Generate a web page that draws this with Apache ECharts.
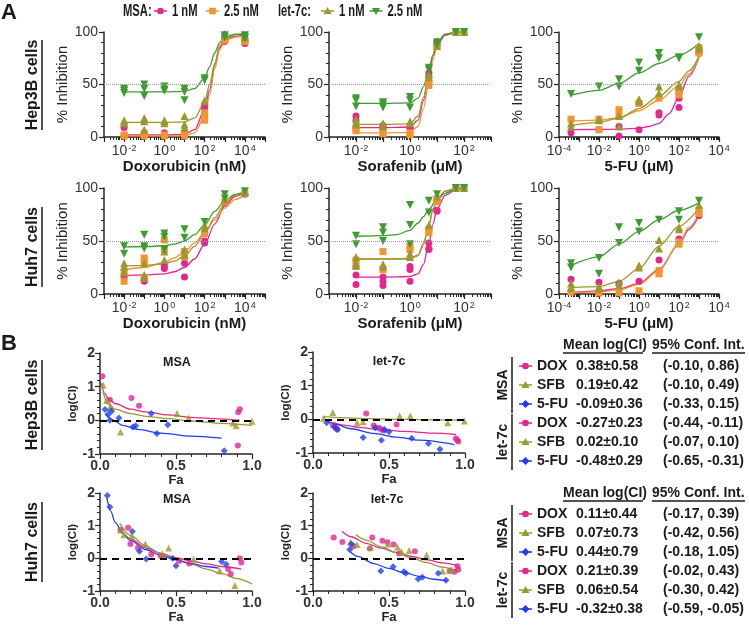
<!DOCTYPE html>
<html><head><meta charset="utf-8">
<script src="https://cdn.jsdelivr.net/npm/echarts@6/dist/echarts.min.js"></script>
<style>html,body{margin:0;padding:0;background:#fff}#c{width:749px;height:626px}</style>
</head><body><div id="c"></div><script>
// ---------- DATA ----------
// log10 concentrations
const doxLogConc = [-2,-1,0,1,2,3,4];
const sorLogConc = [-2,-1,0,0.7,1,1.7,2];
const fuLogConc  = [-3.4,-2,-1,0,1,2,3];
const doxMajor = [-3,-2,-1,0,1,2,3,4,5], doxLabels = [-2,0,2,4];
const sorMajor = [-3,-2,-1,0,1,2,3],     sorLabels = [-2,0,2];
const fuMajor  = [-4,-3,-2,-1,0,1,2,3,4], fuLabels = [-4,-2,0,2,4];
const minorMult = [2,3,4,5,6,7,8,9];
const yInhTicks = [0,50,100];
const legendGroups = ['MSA:','let-7c:'];
const legendItems = ['1 nM','2.5 nM','1 nM','2.5 nM'];

// Replicate % inhibition per concentration
const hep3bDoxMsa1 = [[9,1],[4,1],[4,2],[4,1],[30,27],[92,91],[91,89]];
const hep3bDoxMsa25 = [[2,1],[2,1],[2,1],[2,1],[23,20,16],[94,92],[93,91]];
const hep3bDoxLet1 = [[16,15,13],[18,15,7],[16,15,13],[20,12,9],[35,34],[98,97],[97,95]];
const hep3bDoxLet25 = [[46,44,42],[50,46,39],[48,45,44],[46,43,35],[56,54],[97,95],[97,95,94]];
const hep3bDoxMsa1Fit = [[-2,2],[0,2],[1,2.5],[1.5,7],[2,26],[2.25,45],[2.5,68],[2.75,85],[3,93],[3.5,96],[4,97]];
const hep3bDoxMsa25Fit = [[-2,1],[0,1],[1,1],[1.5,4],[2,20],[2.25,40],[2.5,65],[2.75,83],[3,92],[3.5,95],[4,96]];
const hep3bDoxLet1Fit = [[-2,14],[0,14],[1,14.5],[1.5,18],[2,33],[2.25,50],[2.5,70],[2.75,87],[3,94],[3.5,97.5],[4,98]];
const hep3bDoxLet25Fit = [[-2,43],[0,43],[1,43.5],[1.5,46],[2,56],[2.25,67],[2.5,80],[2.75,90],[3,95],[3.5,98],[4,98.5]];

const hep3bSorMsa1 = [[20,16],[11,9],[9,8],[61,58],[91,89],[100],[100]];
const hep3bSorMsa25 = [[8,6],[5,3],[4,2],[52,49],[88,86],[100],[100]];
const hep3bSorLet1 = [[17,14,12],[13,10],[15,13],[60,57],[91,87],[100],[100]];
const hep3bSorLet25 = [[37,35,29],[33,31,28],[38,35,28],[66,64],[90,88],[100],[100]];
const hep3bSorMsa1Fit = [[-2,9],[-1,9],[0,9.5],[0.3,16],[0.5,35],[0.7,59],[0.85,78],[1,90],[1.3,98],[1.7,99.8],[2,100]];
const hep3bSorMsa25Fit = [[-2,4],[-1,4],[0,4.5],[0.3,10],[0.5,27],[0.7,52],[0.85,73],[1,87],[1.3,97],[1.7,99.7],[2,100]];
const hep3bSorLet1Fit = [[-2,12],[-1,12],[0,12.5],[0.3,20],[0.5,38],[0.7,60],[0.85,78],[1,89],[1.3,97],[1.7,99.7],[2,100]];
const hep3bSorLet25Fit = [[-2,32],[-1,32],[0,32.5],[0.3,37],[0.5,48],[0.7,64],[0.85,78],[1,88],[1.3,97],[1.7,99.5],[2,100]];

const hep3bFuMsa1 = [[4],[7],[10,1],[7],[23,21],[37,28],[80]];
const hep3bFuMsa25 = [[17],[17,7],[26,20],[32],[37],[45,43,40],[85,82,80]];
const hep3bFuLet1 = [[13,10],[17,16],[20,10],[36,34],[48,42],[50,48],[87,84]];
const hep3bFuLet25 = [[41],[48],[55,48],[71,63],[80,75],[76,75],[95]];
const hep3bFuMsa1Fit = [[-3.4,7],[-2,7.2],[-1,7.5],[0,8.5],[0.5,10],[1,13],[1.5,22],[2,38],[2.5,58],[3,76]];
const hep3bFuMsa25Fit = [[-3.4,15],[-2,16],[-1,18.5],[0,25],[1,35],[2,49],[2.5,60],[3,76]];
const hep3bFuLet1Fit = [[-3.4,11],[-2,14],[-1,18],[0,27],[1,39],[2,53],[2.5,63],[3,77]];
const hep3bFuLet25Fit = [[-3.4,40],[-2,44.5],[-1,51],[0,61],[1,70],[2,78],[3,89]];

const huh7DoxMsa1 = [[16],[13,12],[27,24],[29,16],[50,48],[86],[94]];
const huh7DoxMsa25 = [[20,12],[34,31,15],[51,42],[40,35],[57],[87],[95]];
const huh7DoxLet1 = [[29,26,21],[29,18,16],[40,32],[42,37],[65,62],[89],[96]];
const huh7DoxLet25 = [[45,38],[56,45,43],[57,54,42],[61,53],[68],[94,90],[97]];
const huh7DoxMsa1Fit = [[-2,17.5],[-1,18],[0,19],[0.5,21],[1,25],[1.5,33],[2,47],[2.5,66],[3,83],[3.5,92],[4,95.5]];
const huh7DoxMsa25Fit = [[-2,23],[-1,25],[0,30],[0.5,34],[1,40],[1.5,48],[2,58],[2.5,70],[3,81],[3.5,89],[4,93.5]];
const huh7DoxLet1Fit = [[-2,26.5],[-1,27],[0,28.5],[0.5,31],[1,36],[1.5,45],[2,57],[2.5,72],[3,85],[3.5,93],[4,96]];
const huh7DoxLet25Fit = [[-2,44.5],[-1,44.6],[0,45.5],[0.5,47],[1,50],[1.5,56],[2,65],[2.5,78],[3,88],[3.5,94],[4,96.5]];

const huh7SorMsa1 = [[18,9],[16,12,8],[26,23,12],[48,43,42],[79,78],[100],[100]];
const huh7SorMsa25 = [[32,26],[40,23],[45,42],[61,58],[90,87],[100],[100]];
const huh7SorLet1 = [[35,29,27],[28,26],[38,35],[65],[92],[100],[100]];
const huh7SorLet25 = [[55,47],[63,58,50],[84,65,47],[88,77],[94],[100],[100]];
const huh7SorMsa1Fit = [[-2,16],[-1,16],[0,16.5],[0.3,19],[0.5,28],[0.7,48],[0.85,66],[1,80],[1.3,93],[1.7,98.5],[2,99.5]];
const huh7SorMsa25Fit = [[-2,33],[-1,33],[0,33],[0.3,36],[0.5,46],[0.7,64],[0.85,79],[1,89],[1.3,97],[1.7,99.5],[2,100]];
const huh7SorLet1Fit = [[-2,33],[-1,33],[0,33.5],[0.3,37],[0.5,48],[0.7,66],[0.85,80],[1,89],[1.3,97],[1.7,99.5],[2,100]];
const huh7SorLet25Fit = [[-2,54.5],[-1,55],[-0.5,56],[0,60],[0.3,67],[0.5,73],[0.7,80],[1,89],[1.3,95],[1.7,99],[2,100]];

const huh7FuMsa1 = [[14],[11],[10],[12],[32,22],[52],[74]];
const huh7FuMsa25 = [[2],[1],[1],[3],[22,19],[49,47],[79,76]];
const huh7FuLet1 = [[10,6],[7,5],[11,8],[27,25],[51,43],[63,61],[84]];
const huh7FuLet25 = [[29,25],[34,19],[63,48],[67,59],[70],[78,70],[88]];
const huh7FuMsa1Fit = [[-3.4,1.5],[-2,3],[-1,5],[0,10],[1,23],[2,47],[2.5,61],[3,74]];
const huh7FuMsa25Fit = [[-3.4,1],[-2,2],[-1,4],[0,9],[1,22],[2,48],[2.5,63],[3,76]];
const huh7FuLet1Fit = [[-3.4,6],[-2,7],[-1,12],[0,24],[1,45],[2,64],[3,81]];
const huh7FuLet25Fit = [[-3.4,27],[-2,35],[-1,47],[0,59],[1,70],[2,79],[3,86]];

// Panel B: [Fa, log(CI)]
const hep3bMsaDox = [[0.015,1.31],[0.065,0.61],[0.207,0.66],[0.257,0.43],[0.909,0.24],[0.92,0.33],[0.907,-0.75]];
const hep3bMsaSfb = [[0.02,1.05],[0.043,0.59],[0.07,0.41],[0.065,0.36],[0.135,-0.35],[0.507,0.2],[0.583,0.07],[0.874,-0.08],[0.896,-0.16],[1.0,-0.03]];
const hep3bMsaFu = [[0.033,0.32],[0.054,0.17],[0.065,0.0],[0.076,0.27],[0.124,0.07],[0.217,-0.2],[0.235,-0.16],[0.337,0.2],[0.374,-0.39],[0.446,-0.13],[0.817,-0.9]];
const hep3bMsaDoxFit = [[0.01,1.1],[0.03,0.8],[0.06,0.62],[0.1,0.5],[0.2,0.33],[0.3,0.25],[0.45,0.16],[0.6,0.09],[0.75,0.05],[0.92,0.0]];
const hep3bMsaSfbFit = [[0.02,0.85],[0.05,0.5],[0.1,0.33],[0.2,0.2],[0.3,0.12],[0.45,0.05],[0.6,-0.02],[0.8,-0.09],[1.0,-0.15]];
const hep3bMsaFuFit = [[0.035,0.2],[0.08,0.02],[0.15,-0.15],[0.25,-0.27],[0.4,-0.38],[0.6,-0.47],[0.8,-0.53]];

const hep3bLetDox = [[0.13,-0.17],[0.15,-0.25],[0.16,-0.3],[0.35,0.17],[0.4,-0.18],[0.435,-0.25],[0.45,-0.3],[0.466,-0.33],[0.55,-0.15],[0.94,-0.57],[0.95,-0.62],[0.956,-0.66]];
const hep3bLetSfb = [[0.07,0.03],[0.13,0.2],[0.29,-0.1],[0.33,-0.07],[0.57,0.1],[0.64,0.1],[0.886,-0.1],[0.996,-0.05]];
const hep3bLetFu = [[0.09,-0.1],[0.14,-0.23],[0.16,-0.3],[0.33,-0.54],[0.41,-0.25],[0.45,-0.62],[0.47,-0.3],[0.5,-0.37],[0.65,-0.56],[0.76,-0.72],[0.835,-0.89]];
const hep3bLetDoxFit = [[0.13,-0.1],[0.2,-0.17],[0.3,-0.24],[0.45,-0.31],[0.6,-0.36],[0.8,-0.41],[0.94,-0.45]];
const hep3bLetSfbFit = [[0.07,0.08],[0.3,0.03],[0.6,0.0],[1.0,-0.03]];
const hep3bLetFuFit = [[0.09,-0.03],[0.15,-0.15],[0.25,-0.28],[0.4,-0.42],[0.55,-0.53],[0.7,-0.62],[0.93,-0.75]];

const huh7MsaDox = [[0.135,0.87],[0.185,0.94],[0.2,0.44],[0.25,0.32],[0.337,0.12],[0.4,0.07],[0.413,0.04],[0.52,-0.08],[0.587,-0.16],[0.843,-0.33],[0.86,-0.48],[0.92,0.0],[0.93,-0.13]];
const huh7MsaSfb = [[0.135,0.87],[0.157,0.72],[0.207,0.67],[0.298,0.44],[0.41,0.14],[0.452,0.32],[0.615,-0.03],[0.787,-0.38],[0.887,-0.83]];
const huh7MsaFu = [[0.048,1.92],[0.065,1.57],[0.213,0.82],[0.26,0.22],[0.304,-0.02],[0.478,0.0],[0.5,-0.23],[0.8,-0.1],[0.83,-0.18]];
const huh7MsaDoxFit = [[0.14,0.85],[0.2,0.6],[0.3,0.32],[0.4,0.15],[0.5,0.02],[0.6,-0.08],[0.7,-0.17],[0.8,-0.25],[0.93,-0.33]];
const huh7MsaSfbFit = [[0.13,1.07],[0.2,0.7],[0.3,0.38],[0.4,0.15],[0.5,-0.03],[0.6,-0.18],[0.7,-0.33],[0.8,-0.47],[0.9,-0.62],[1.0,-0.78]];
const huh7MsaFuFit = [[0.045,1.85],[0.07,1.45],[0.1,1.1],[0.15,0.77],[0.2,0.55],[0.3,0.27],[0.4,0.09],[0.5,-0.05],[0.6,-0.16],[0.7,-0.25],[0.78,-0.3]];

const huh7LetDox = [[0.136,0.64],[0.193,0.5],[0.268,0.37],[0.374,0.3],[0.39,0.64],[0.457,0.54],[0.49,0.49],[0.53,0.42],[0.567,0.15],[0.67,0.22],[0.9,-0.39],[0.93,-0.41],[0.95,-0.24],[0.956,-0.34]];
const huh7LetSfb = [[0.246,0.49],[0.29,0.42],[0.378,0.34],[0.495,0.44],[0.556,0.35],[0.582,0.2],[0.633,0.24],[0.747,0.1],[0.853,-0.39],[0.897,-0.36],[0.912,-0.34]];
const huh7LetFu = [[0.242,0.27],[0.253,0.44],[0.446,-0.39],[0.527,-0.26],[0.598,-0.41],[0.611,-0.46],[0.692,-0.63],[0.719,-0.58],[0.824,-0.46],[0.875,-0.67]];
const huh7LetDoxFit = [[0.19,0.83],[0.25,0.66],[0.35,0.46],[0.45,0.31],[0.55,0.18],[0.65,0.06],[0.75,-0.05],[0.85,-0.14],[0.95,-0.22]];
const huh7LetSfbFit = [[0.28,0.73],[0.35,0.56],[0.45,0.35],[0.55,0.17],[0.65,0.01],[0.75,-0.13],[0.85,-0.27],[0.96,-0.42]];
const huh7LetFuFit = [[0.24,0.22],[0.3,0.05],[0.4,-0.16],[0.5,-0.31],[0.6,-0.44],[0.7,-0.55],[0.8,-0.64],[0.88,-0.7]];

// Tables
const tableDrugs = ['DOX','SFB','5-FU'];
const tableHeader = ['Mean log(CI)','95% Conf. Int.'];
const hep3bMsaMean = ['0.38±0.58','0.19±0.42','-0.09±0.36'];
const hep3bMsaCI = ['(-0.10, 0.86)','(-0.10, 0.49)','(-0.33, 0.15)'];
const hep3bLetMean = ['-0.27±0.23','0.02±0.10','-0.48±0.29'];
const hep3bLetCI = ['(-0.44, -0.11)','(-0.07, 0.10)','(-0.65, -0.31)'];
const huh7MsaMean = ['0.11±0.44','0.07±0.73','0.44±0.79'];
const huh7MsaCI = ['(-0.17, 0.39)','(-0.42, 0.56)','(-0.18, 1.05)'];
const huh7LetMean = ['0.21±0.39','0.06±0.54','-0.32±0.38'];
const huh7LetCI = ['(-0.02, 0.43)','(-0.30, 0.42)','(-0.59, -0.05)'];

// ---------- STYLE / BUILD ----------
const FONT = "'Liberation Sans', Arial, sans-serif";
const AX = '#262626';
const COL = {msa1:'#E4278D', msa25:'#F2952F', let1:'#9A982E', let25:'#3E9B32', dox:'#E4278D', sfb:'#9A982E', fu:'#1E3EF2'};
const aGroups = [
  {name:'MSA 1 nM', color:COL.msa1, symbol:'circle', size:7, rot:0},
  {name:'MSA 2.5 nM', color:COL.msa25, symbol:'rect', size:7, rot:0},
  {name:'let-7c 1 nM', color:COL.let1, symbol:'triangle', size:8, rot:0},
  {name:'let-7c 2.5 nM', color:COL.let25, symbol:'triangle', size:8, rot:180}
];
const bGroups = [
  {name:'DOX', color:COL.dox, symbol:'circle', size:6},
  {name:'SFB', color:COL.sfb, symbol:'triangle', size:7},
  {name:'5-FU', color:COL.fu, symbol:'diamond', size:7}
];
const expand = (conc, reps) => conc.flatMap((c,i) => reps[i].map(v => [c, v]));
const minorsFor = (lo, hi) => { const out=[]; for (let d=Math.floor(lo); d<hi; d++) minorMult.forEach(m => { const v=d+Math.log10(m); if (v>lo && v<hi) out.push(v); }); return out; };

const aPlots = [
  {left:104, top:32, width:161, height:105, xmin:-3, xmax:5, majors:doxMajor, labels:doxLabels, title:'Doxorubicin (nM)', conc:doxLogConc,
   sets:[hep3bDoxMsa1,hep3bDoxMsa25,hep3bDoxLet1,hep3bDoxLet25], fits:[hep3bDoxMsa1Fit,hep3bDoxMsa25Fit,hep3bDoxLet1Fit,hep3bDoxLet25Fit]},
  {left:329, top:32, width:162, height:105, xmin:-3, xmax:3, majors:sorMajor, labels:sorLabels, title:'Sorafenib (\u03bcM)', conc:sorLogConc,
   sets:[hep3bSorMsa1,hep3bSorMsa25,hep3bSorLet1,hep3bSorLet25], fits:[hep3bSorMsa1Fit,hep3bSorMsa25Fit,hep3bSorLet1Fit,hep3bSorLet25Fit]},
  {left:559, top:32, width:160, height:105, xmin:-4, xmax:4, majors:fuMajor, labels:fuLabels, title:'5-FU (\u03bcM)', conc:fuLogConc,
   sets:[hep3bFuMsa1,hep3bFuMsa25,hep3bFuLet1,hep3bFuLet25], fits:[hep3bFuMsa1Fit,hep3bFuMsa25Fit,hep3bFuLet1Fit,hep3bFuLet25Fit]},
  {left:104, top:188, width:161, height:106, xmin:-3, xmax:5, majors:doxMajor, labels:doxLabels, title:'Doxorubicin (nM)', conc:doxLogConc,
   sets:[huh7DoxMsa1,huh7DoxMsa25,huh7DoxLet1,huh7DoxLet25], fits:[huh7DoxMsa1Fit,huh7DoxMsa25Fit,huh7DoxLet1Fit,huh7DoxLet25Fit]},
  {left:329, top:188, width:162, height:106, xmin:-3, xmax:3, majors:sorMajor, labels:sorLabels, title:'Sorafenib (\u03bcM)', conc:sorLogConc,
   sets:[huh7SorMsa1,huh7SorMsa25,huh7SorLet1,huh7SorLet25], fits:[huh7SorMsa1Fit,huh7SorMsa25Fit,huh7SorLet1Fit,huh7SorLet25Fit]},
  {left:559, top:188, width:160, height:106, xmin:-4, xmax:4, majors:fuMajor, labels:fuLabels, title:'5-FU (\u03bcM)', conc:fuLogConc,
   sets:[huh7FuMsa1,huh7FuMsa25,huh7FuLet1,huh7FuLet25], fits:[huh7FuMsa1Fit,huh7FuMsa25Fit,huh7FuLet1Fit,huh7FuLet25Fit]}
];
const bPlots = [
  {left:100, top:353, width:152, height:101, sets:[hep3bMsaDox,hep3bMsaSfb,hep3bMsaFu], fits:[hep3bMsaDoxFit,hep3bMsaSfbFit,hep3bMsaFuFit]},
  {left:313, top:352, width:152, height:101, sets:[hep3bLetDox,hep3bLetSfb,hep3bLetFu], fits:[hep3bLetDoxFit,hep3bLetSfbFit,hep3bLetFuFit]},
  {left:100, top:493, width:152, height:98, sets:[huh7MsaDox,huh7MsaSfb,huh7MsaFu], fits:[huh7MsaDoxFit,huh7MsaSfbFit,huh7MsaFuFit]},
  {left:313, top:493, width:152, height:98, sets:[huh7LetDox,huh7LetSfb,huh7LetFu], fits:[huh7LetDoxFit,huh7LetSfbFit,huh7LetFuFit]}
];

const grid=[], xAxis=[], yAxis=[], series=[];
aPlots.forEach(p => {
  const gi = grid.length;
  grid.push({left:p.left, top:p.top, width:p.width, height:p.height, containLabel:false});
  const xi = xAxis.length;
  xAxis.push({type:'value', gridIndex:gi, min:p.xmin, max:p.xmax, position:'bottom',
    axisLine:{show:true, onZero:false, lineStyle:{color:AX, width:1.5}},
    axisTick:{show:true, customValues:p.majors, length:5, lineStyle:{color:AX, width:1.2}},
    axisLabel:{customValues:p.labels, margin:7, formatter: v => '{b|10}{s|' + v + '}',
      rich:{b:{fontSize:14, color:'#333', fontFamily:FONT}, s:{fontSize:9, color:'#333', fontFamily:FONT, verticalAlign:'top', padding:[0,0,6,1]}}},
    splitLine:{show:false},
    name:p.title, nameLocation:'middle', nameGap:19, nameTextStyle:{fontSize:15, fontWeight:'bold', color:'#1a1a1a', fontFamily:FONT}});
  xAxis.push({type:'value', gridIndex:gi, min:p.xmin, max:p.xmax, position:'bottom',
    axisLine:{show:false}, axisTick:{show:true, customValues:minorsFor(p.xmin,p.xmax), length:3, lineStyle:{color:AX, width:1}},
    axisLabel:{show:false}, splitLine:{show:false}});
  const yi = yAxis.length;
  yAxis.push({type:'value', gridIndex:gi, min:0, max:100, interval:50,
    axisLine:{show:true, onZero:false, lineStyle:{color:AX, width:1.5}},
    axisTick:{show:true, length:5, lineStyle:{color:AX, width:1.2}},
    minorTick:{show:true, splitNumber:5, length:3, lineStyle:{color:AX, width:1}},
    axisLabel:{margin:6, fontSize:14, color:'#333', customValues:yInhTicks},
    splitLine:{show:false},
    name:'% Inhibition', nameLocation:'middle', nameGap:31, nameRotate:90, nameTextStyle:{fontSize:15, color:'#222', fontFamily:FONT}});
  aGroups.forEach((g, k) => {
    const line = {type:'line', name:g.name, xAxisIndex:xi, yAxisIndex:yi, data:p.fits[k], smooth:0.3, smoothMonotone:'x',
      showSymbol:false, symbol:g.symbol, symbolSize:g.size, symbolRotate:g.rot, silent:true,
      lineStyle:{color:g.color, width:1.3}, itemStyle:{color:g.color}, z:2};
    if (k === 0) line.markLine = {silent:true, symbol:'none', label:{show:false},
      lineStyle:{type:'dotted', color:'#9a9a9a', width:1}, data:[{yAxis:50}]};
    series.push(line);
  });
  aGroups.forEach((g, k) => {
    series.push({type:'scatter', name:g.name, xAxisIndex:xi, yAxisIndex:yi, data:expand(p.conc, p.sets[k]),
      symbol:g.symbol, symbolSize:g.size, symbolRotate:g.rot, itemStyle:{color:g.color, opacity:1}, z:3});
  });
});
const bTitles = ['MSA','let-7c','MSA','let-7c'];
bPlots.forEach((p, n) => {
  const gi = grid.length;
  grid.push({left:p.left, top:p.top, width:p.width, height:p.height, containLabel:false});
  const xi = xAxis.length, yi = yAxis.length;
  xAxis.push({type:'value', gridIndex:gi, min:0, max:1, interval:0.5,
    axisLine:{show:true, onZero:false, lineStyle:{color:AX, width:1.5}},
    axisTick:{show:true, length:5, lineStyle:{color:AX, width:1.2}},
    minorTick:{show:true, splitNumber:5, length:3, lineStyle:{color:AX, width:1}},
    axisLabel:{margin:5, fontSize:14, fontWeight:'bold', color:'#333', formatter: v => v.toFixed(1)},
    splitLine:{show:false},
    name:'Fa', nameLocation:'middle', nameGap:20, nameTextStyle:{fontSize:13, fontWeight:'bold', color:'#222', fontFamily:FONT}});
  yAxis.push({type:'value', gridIndex:gi, min:-1, max:2, interval:1,
    axisLine:{show:true, onZero:false, lineStyle:{color:AX, width:1.5}},
    axisTick:{show:true, length:5, lineStyle:{color:AX, width:1.2}},
    minorTick:{show:true, splitNumber:5, length:3, lineStyle:{color:AX, width:1}},
    axisLabel:{margin:5, fontSize:14, fontWeight:'bold', color:'#333'},
    splitLine:{show:false},
    name:'log(CI)', nameLocation:'middle', nameGap:17, nameRotate:90, nameTextStyle:{fontSize:11.5, fontWeight:'bold', color:'#222', fontFamily:FONT}});
  bGroups.forEach((g, k) => {
    const line = {type:'line', name:bTitles[n] + ' ' + g.name + ' fit', xAxisIndex:xi, yAxisIndex:yi, data:p.fits[k], smooth:0.3, smoothMonotone:'x',
      showSymbol:false, silent:true, lineStyle:{color:g.color, width:1.3}, itemStyle:{color:g.color}, z:2};
    if (k === 0) line.markLine = {silent:true, symbol:'none', label:{show:false},
      lineStyle:{type:[7,5], color:'#000', width:2}, data:[{yAxis:0}]};
    series.push(line);
  });
  bGroups.forEach((g, k) => {
    series.push({type:'scatter', name:bTitles[n] + ' ' + g.name, xAxisIndex:xi, yAxisIndex:yi, data:p.sets[k],
      symbol:g.symbol, symbolSize:g.size, itemStyle:{color:g.color}, z:3});
  });
});

// ---------- GRAPHIC (labels, legend, tables) ----------
const graphic = [];
const txt = (text, x, y, o) => graphic.push(Object.assign({type:'text', x, y, silent:true,
  style:Object.assign({text, fill:'#1a1a1a', fontFamily:FONT, fontSize:14, fontWeight:'bold', align:'left', verticalAlign:'middle'}, o && o.style)},
  o && o.rot ? {rotation:o.rot} : {}, o && o.sx ? {scaleX:o.sx} : {}));
const ln = (x1,y1,x2,y2,w,c) => graphic.push({type:'line', silent:true, shape:{x1,y1,x2,y2}, style:{stroke:c||'#1a1a1a', lineWidth:w||1.3}});
function icon(kind, x, y, color, half) {
  const h = half || 6.5;
  ln(x-h, y, x+h, y, 1.5, color);
  if (kind === 'circle') graphic.push({type:'circle', silent:true, shape:{cx:x, cy:y, r:3.3}, style:{fill:color}});
  else if (kind === 'rect') graphic.push({type:'rect', silent:true, shape:{x:x-3.3, y:y-3.3, width:6.6, height:6.6}, style:{fill:color}});
  else if (kind === 'triangle') graphic.push({type:'polygon', silent:true, shape:{points:[[x,y-4],[x+4,y+3],[x-4,y+3]]}, style:{fill:color}});
  else if (kind === 'down') graphic.push({type:'polygon', silent:true, shape:{points:[[x,y+4],[x+4,y-3],[x-4,y-3]]}, style:{fill:color}});
  else graphic.push({type:'polygon', silent:true, shape:{points:[[x,y-4],[x+4,y],[x,y+4],[x-4,y]]}, style:{fill:color}});
}

txt('A', 1, 13, {style:{fontSize:22}});
txt('B', 1, 344, {style:{fontSize:22}});
// legend (condensed bold text as in the figure)
const legSX = 0.68;
txt(legendGroups[0], 123, 11, {sx:legSX, style:{fontSize:16.5}});
txt(legendGroups[1], 278, 11, {sx:legSX, style:{fontSize:16.5}});
const legIcons = [['circle',160.5],['rect',212.5],['triangle',327.5],['down',376]];
aGroups.forEach((g, k) => {
  icon(legIcons[k][0], legIcons[k][1], 11, g.color, 6.5);
  txt(legendItems[k], legIcons[k][1] + 11.5, 11, {sx:legSX, style:{fontSize:16.5}});
});
// row labels
[['Hep3B cells',85],['Huh7 cells',247],['Hep3B cells',405],['Huh7 cells',542]].forEach(([t,y]) => {
  txt(t, 33, y, {rot:Math.PI/2, style:{fontSize:16, align:'center'}});
  const half = t.length > 10 ? 45 : 40;
  ln(42, y-half, 42, y+half, 1.5);
});
// B titles
[[177,363],[389,362],[177,500],[387,500]].forEach(([x,y],i) => txt(bTitles[i], x, y, {style:{fontSize:12.5, align:'center'}}));

// tables
function table(hy, msaMean, msaCI, letMean, letCI) {
  txt(tableHeader[0], 563, hy, {});
  txt(tableHeader[1], 652, hy, {});
  ln(563, hy+8, 643, hy+8, 1.3); ln(652, hy+8, 745, hy+8, 1.3);
  const rows = [[msaMean, msaCI], [letMean, letCI]];
  ['MSA','let-7c'].forEach((grp, gi) => {
    const y0 = hy + 21 + gi*57;
    txt(grp, 503, y0 + 19, {rot:Math.PI/2, style:{align:'center'}});
    ln(512, y0 - 9, 512, y0 + 47, 1.5);
    tableDrugs.forEach((d, r) => {
      const y = y0 + r*19;
      icon(bGroups[r].symbol, 525.5, y, bGroups[r].color);
      txt(d, 537, y, {});
      txt(rows[gi][0][r], 576, y, {});
      txt(rows[gi][1][r], 663, y, {});
    });
  });
}
table(345, hep3bMsaMean, hep3bMsaCI, hep3bLetMean, hep3bLetCI);
table(493, huh7MsaMean, huh7MsaCI, huh7LetMean, huh7LetCI);

const chart = echarts.init(document.getElementById('c'), null, {renderer:'canvas'});
chart.setOption({
  animation:false,
  backgroundColor:'#fff',
  textStyle:{fontFamily:FONT},
  grid, xAxis, yAxis, series, graphic
});
</script></body></html>
